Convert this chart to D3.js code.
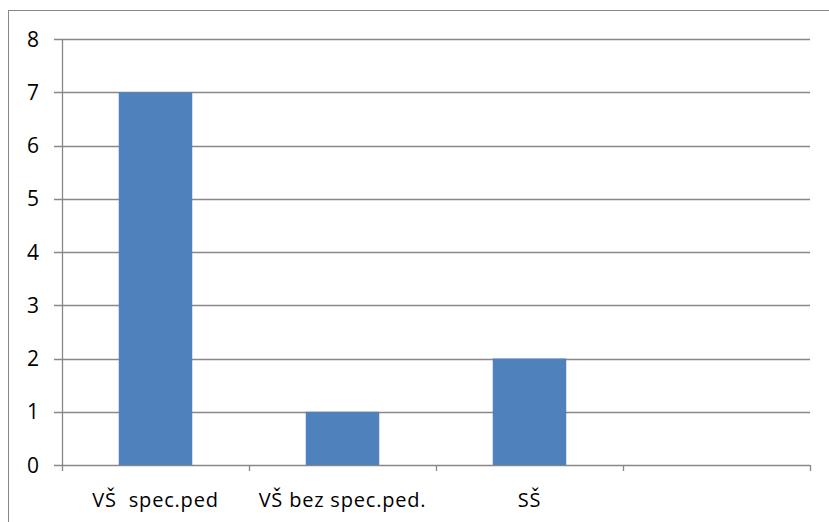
<!DOCTYPE html>
<html>
<head>
<meta charset="utf-8">
<script src="https://cdn.jsdelivr.net/npm/d3@7"></script>
<style>
  body { margin: 0; background: #fff; }
  svg text { font-family: "Open Sans", Lato, sans-serif; fill: #000; }
</style>
</head>
<body>
<div id="chart"></div>
<script>
// data
const categories = ["VŠ  spec.ped", "VŠ bez spec.ped.", "SŠ", ""];
const values = [7, 1, 2, null];
const yTicks = [0, 1, 2, 3, 4, 5, 6, 7, 8];

const W = 829, H = 522;
const margin = {top: 39, right: 19, bottom: 57, left: 62};
const width = W - margin.left - margin.right,
      height = H - margin.top - margin.bottom;

const svg = d3.select("#chart").append("svg")
  .attr("width", W)
  .attr("height", H);

// outer chart border
svg.append("rect")
  .attr("x", 8.5).attr("y", 10.5)
  .attr("width", W + 10).attr("height", H + 10)
  .attr("fill", "none")
  .attr("stroke", "#888")
  .attr("stroke-width", 1);

const g = svg.append("g")
  .attr("transform", `translate(${margin.left},${margin.top})`);

const x = d3.scaleBand()
  .domain(categories)
  .range([0, width])
  .paddingInner(0.607)
  .paddingOuter(0.3035);

const y = d3.scaleLinear()
  .domain([0, 8])
  .range([height, 0]);

// gridlines
g.append("g")
  .selectAll("line")
  .data(yTicks)
  .join("line")
    .attr("x1", -8)
    .attr("x2", width)
    .attr("y1", d => Math.round(y(d)) + 0.5)
    .attr("y2", d => Math.round(y(d)) + 0.5)
    .attr("stroke", "#888")
    .attr("stroke-width", 1.3);

// y labels
g.append("g")
  .selectAll("text")
  .data(yTicks)
  .join("text")
    .attr("x", -23)
    .attr("y", d => y(d))
    .attr("dy", "0.36em")
    .attr("text-anchor", "end")
    .style("font-size", "21px")
    .text(d => d);

// y axis line
g.append("line")
  .attr("x1", 0.5).attr("x2", 0.5)
  .attr("y1", 0).attr("y2", height)
  .attr("stroke", "#888")
  .attr("stroke-width", 1.3);

// bars
g.append("g")
  .selectAll("rect")
  .data(values.map((v, i) => ({c: categories[i], v: v})).filter(d => d.v != null))
  .join("rect")
    .attr("x", d => x(d.c))
    .attr("y", d => y(d.v))
    .attr("width", x.bandwidth())
    .attr("height", d => height - y(d.v))
    .attr("fill", "#4F81BD");

// category boundary ticks
const step = width / categories.length;
g.append("g")
  .selectAll("line")
  .data(d3.range(categories.length + 1))
  .join("line")
    .attr("x1", i => Math.round(i * step) + 0.5)
    .attr("x2", i => Math.round(i * step) + 0.5)
    .attr("y1", height)
    .attr("y2", height + 6)
    .attr("stroke", "#888")
    .attr("stroke-width", 1.3);

// category labels
g.append("g")
  .selectAll("text")
  .data(categories)
  .join("text")
    .attr("x", d => x(d) + x.bandwidth() / 2)
    .attr("y", height + 42)
    .attr("text-anchor", "middle")
    .style("font-size", "20px")
    .style("letter-spacing", "0.8px")
    .style("white-space", "pre")
    .text(d => d);
</script>
</body>
</html>
